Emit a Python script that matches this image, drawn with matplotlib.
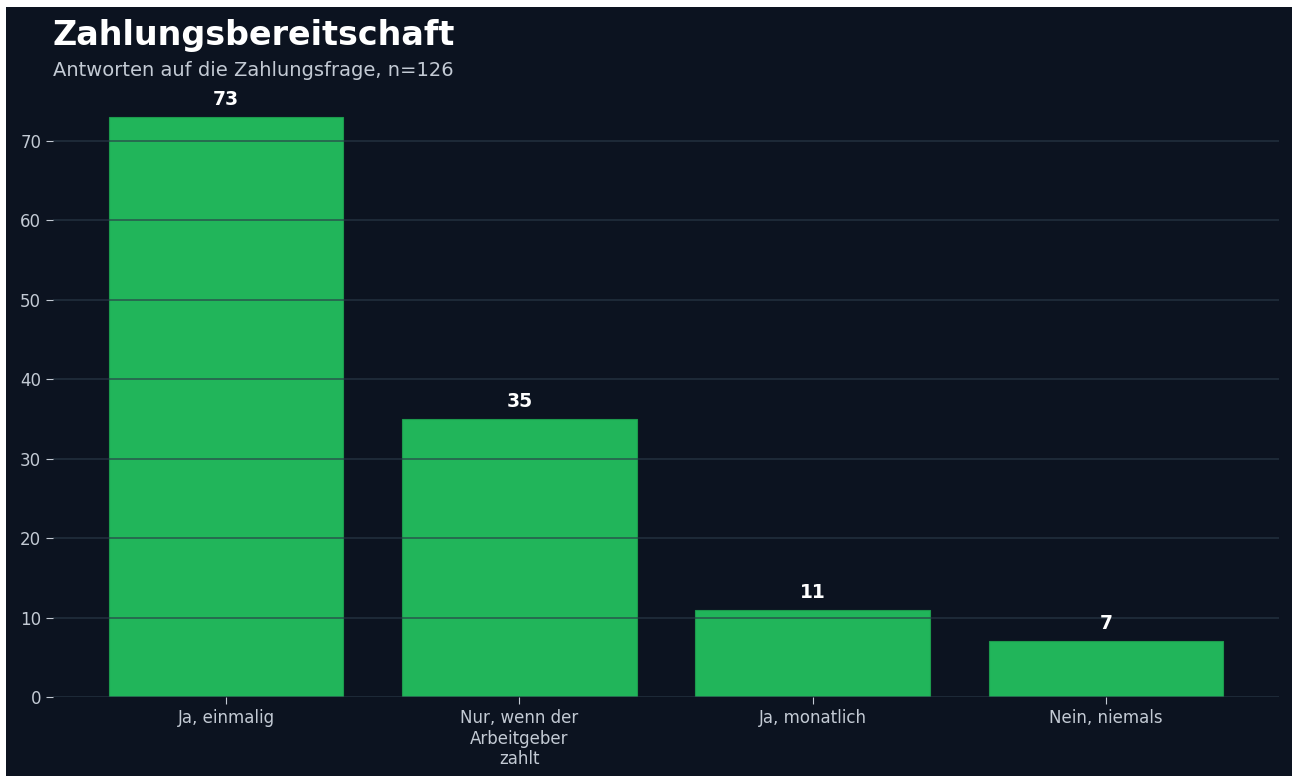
import matplotlib.pyplot as plt
from matplotlib.patches import Rectangle

# Daten
kategorien = ['Ja, einmalig', 'Nur, wenn der\nArbeitgeber\nzahlt', 'Ja, monatlich', 'Nein, niemals']
anzahl = [73, 35, 11, 7]
yticks = [0, 10, 20, 30, 40, 50, 60, 70]

bg = '#0c1320'
gruen = '#21b55a'
textfarbe = '#c3cad4'

fig = plt.figure(figsize=(12.92, 7.76), dpi=100, facecolor='white')
# dunkler Hintergrund (oben und links ein schmaler weisser Rand)
fig.patches.append(Rectangle((6 / 1292, 0), 1, (776 - 7) / 776, transform=fig.transFigure,
                             facecolor=bg, edgecolor='none', zorder=-10))

ax = fig.add_axes([53 / 1292, 1 - 697 / 776, (1279 - 53) / 1292, (697 - 88) / 776])
ax.set_facecolor(bg)

x = range(len(kategorien))
balken = ax.bar(x, anzahl, width=0.8, color=gruen, edgecolor='#1c9a4c', linewidth=0.8, zorder=2)

for b, v in zip(balken, anzahl):
    ax.text(b.get_x() + b.get_width() / 2, v + 1.0, str(v), ha='center', va='bottom',
            color='white', fontsize=13.5, fontweight='bold')

ax.set_ylim(0, 73 * 1.05)
ax.set_yticks(yticks)
ax.set_xticks(list(x))
ax.set_xticklabels(kategorien)
ax.tick_params(colors=textfarbe, labelsize=12)
ax.tick_params(axis='x', length=5, color='#c3cad4')
ax.tick_params(axis='y', length=5, color='#c3cad4')

ax.grid(axis='y', color='#2a3a48', linewidth=1.2, alpha=0.7, zorder=3)
ax.set_axisbelow(False)
for s in ax.spines.values():
    s.set_visible(False)

fig.text(53 / 1292, 1 - 36 / 776, 'Zahlungsbereitschaft', color='white', fontsize=24,
         fontweight='bold', va='center', ha='left')
fig.text(53 / 1292, 1 - 70 / 776, 'Antworten auf die Zahlungsfrage, n=126', color=textfarbe,
         fontsize=14, va='center', ha='left')

fig.savefig('out.png', dpi=100, facecolor=fig.get_facecolor())
